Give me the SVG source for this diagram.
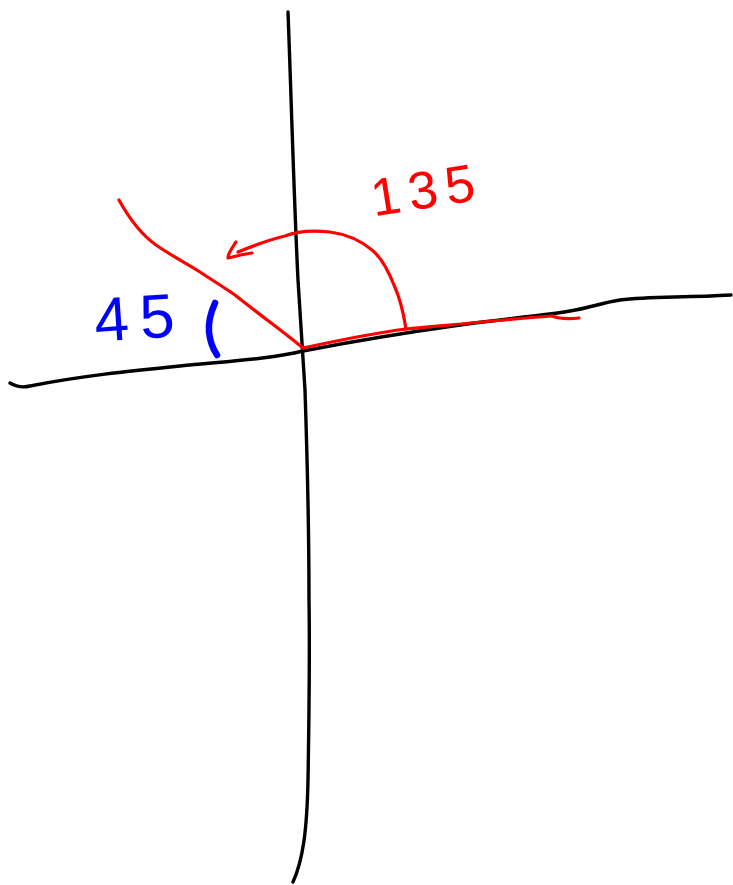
<svg xmlns="http://www.w3.org/2000/svg" width="733" height="885" viewBox="0 0 733 885">
<style>
.ink{fill:none;stroke-linecap:round;stroke-linejoin:round}
.blk{stroke:#000;stroke-width:3.4}
.red{stroke:#ff0000;stroke-width:3.2}
.lbl{font-family:"Liberation Sans",Arial,sans-serif;font-weight:normal}
</style>
<rect width="733" height="885" fill="#fff"/>
<g id="axes">
<path class="ink blk" d="M288,12 C291,90 294,200 298,280 C301,330 303,360 305,390 C307,450 309,520 309,600 C310,660 309,720 308,780 C307,830 303,860 293,882"/>
<path class="ink blk" d="M10,383 C15,386 22,388 30,386 C80,376 130,371 180,366 C230,361 270,359 303,351 C360,340 410,332 460,325 C510,318 540,316 570,311 C590,308 600,303 620,300 C650,296 680,298 731,295"/>
</g>
<g id="angle-lines">
<path class="ink red" d="M119,200 C130,220 142,235 156,245 C175,258 188,264 200,272 C215,282 225,288 235,295 C260,315 285,333 303,348"/>
<path class="ink red" d="M303,348 C340,340 375,333 406,329 C450,325 500,320 552,316"/>
<path class="ink red" d="M552,316 C560,319 570,319 579,318"/>
</g>
<g id="arc-135">
<path class="ink red" d="M406,329 C403,310 400,298 394,285 C388,270 382,258 372,250 C360,240 345,234 330,232 C312,230 295,232 285,236 C268,240 255,245 238,252"/>
<path class="ink red" d="M236,242 C232,248 228,253 228,258 C236,256 244,254 252,253"/>
<text class="lbl" x="369" y="208" font-size="53" letter-spacing="8" fill="#ff0000" transform="rotate(-9 425 180)">135</text>
</g>
<g id="label-45">
<text class="lbl" x="94" y="339" font-size="62" letter-spacing="11" fill="#0000ff" transform="rotate(-4 135 315)">45</text>
<path class="ink" d="M215,303 C211,312 208,322 209,332 C210,342 213,349 217,355" stroke="#0000ff" stroke-width="6.5"/>
</g>
</svg>
